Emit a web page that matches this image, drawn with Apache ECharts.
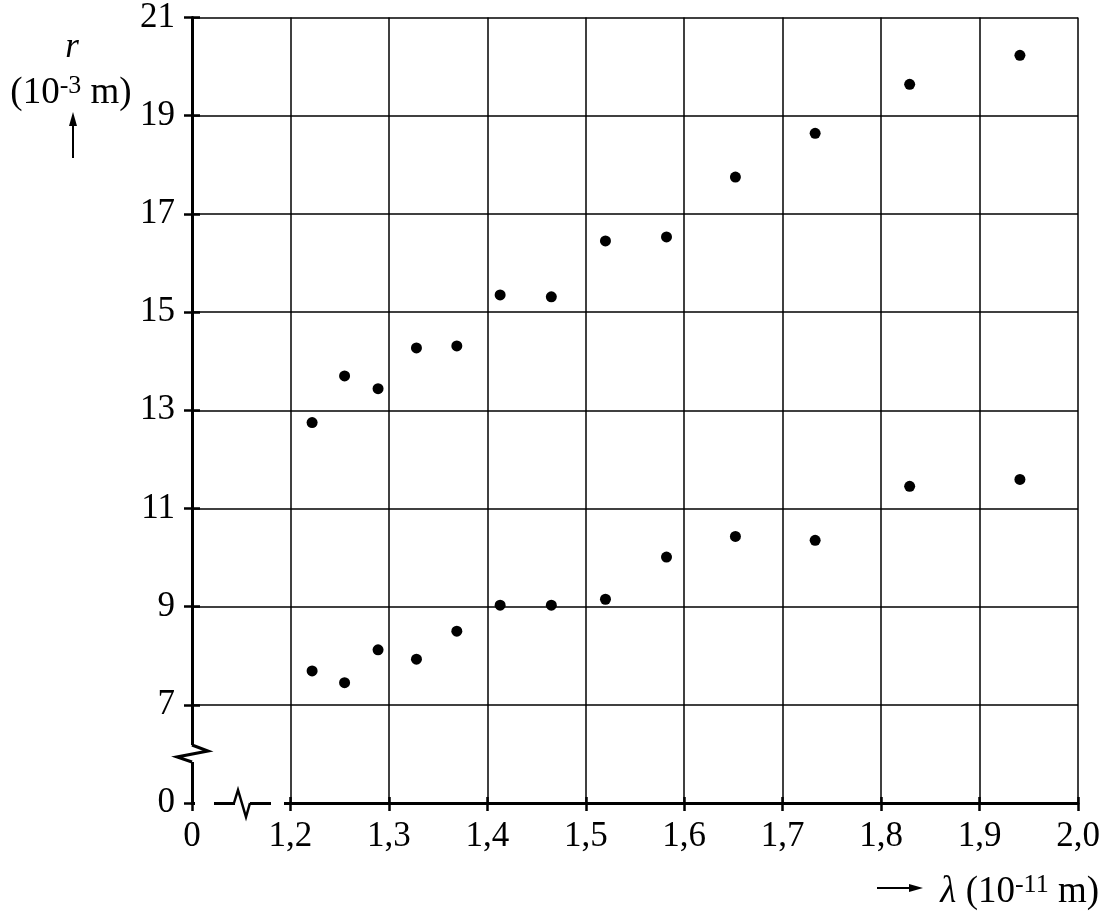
<!DOCTYPE html>
<html>
<head>
<meta charset="utf-8">
<script src="https://cdn.jsdelivr.net/npm/echarts@6/dist/echarts.min.js"></script>
<style>
  html, body { margin: 0; padding: 0; background: #fff; }
  #chart { width: 1109px; height: 918px; }
</style>
</head>
<body>
<div id="chart"></div>
<script>
// wavelength in 10^-11 m
const lambda = [1.222, 1.255, 1.289, 1.328, 1.369, 1.413, 1.465, 1.520, 1.582, 1.652, 1.733, 1.829, 1.941]
// ring radius in 10^-3 m
const rOuter = [12.75, 13.70, 13.44, 14.27, 14.31, 15.35, 15.31, 16.45, 16.53, 17.75, 18.64, 19.64, 20.23]
const rInner = [7.69, 7.45, 8.12, 7.93, 8.50, 9.03, 9.03, 9.15, 10.01, 10.43, 10.35, 11.45, 11.59]

// axis breaks: the first tick stands for 0, the rest are real values
const xTicks = [0, 1.2, 1.3, 1.4, 1.5, 1.6, 1.7, 1.8, 1.9, 2.0]
const yTicks = [0, 7, 9, 11, 13, 15, 17, 19, 21]

// axis units: x in tenths (11..20), y shifted so 5 -> 0
const X_MIN = 11, X_MAX = 20
const Y_SHIFT = 5
const toX = l => l * 10
const toY = r => r - Y_SHIFT

const font = '"Liberation Serif", "DejaVu Serif", serif'
const ink = '#000'

const xLabel = v => {
  const i = Math.round(v) - X_MIN
  const t = xTicks[i]
  return t === 0 ? '0' : t.toFixed(1).replace('.', ',')
}
const yLabel = v => {
  const i = Math.round(v / 2)
  return String(yTicks[i])
}

const chart = echarts.init(document.getElementById('chart'))

const baseX = {
  type: 'value', min: X_MIN, max: X_MAX, interval: 1, position: 'bottom'
}
const baseY = {
  type: 'value', min: 0, max: 16, interval: 2, position: 'left'
}

const option = {
  animation: false,
  backgroundColor: '#fff',
  grid: { left: 192, right: 31, top: 17, bottom: 115 },
  xAxis: [
    Object.assign({}, baseX, {
      axisLine: { show: true, lineStyle: { color: ink, width: 3 } },
      axisTick: { show: true, length: 8, lineStyle: { color: ink, width: 2.5 } },
      axisLabel: { formatter: xLabel, fontFamily: font, fontSize: 35, color: ink, margin: 16 },
      splitLine: { show: true, lineStyle: { color: ink, width: 1.5 } }
    }),
    Object.assign({}, baseX, {
      axisLine: { show: false },
      axisTick: { show: true, inside: true, length: 6, lineStyle: { color: ink, width: 2.5 } },
      axisLabel: { show: false },
      splitLine: { show: false }
    })
  ],
  yAxis: [
    Object.assign({}, baseY, {
      axisLine: { show: true, lineStyle: { color: ink, width: 3 } },
      axisTick: { show: true, length: 8, lineStyle: { color: ink, width: 2.5 } },
      axisLabel: { formatter: yLabel, fontFamily: font, fontSize: 35, color: ink, margin: 17 },
      splitLine: { show: true, lineStyle: { color: ink, width: 1.5 } }
    }),
    Object.assign({}, baseY, {
      axisLine: { show: false },
      axisTick: { show: true, inside: true, length: 8, lineStyle: { color: ink, width: 2.5 } },
      axisLabel: { show: false },
      splitLine: { show: false }
    })
  ],
  series: [
    {
      name: 'outer',
      type: 'scatter',
      symbol: 'circle',
      symbolSize: 11,
      itemStyle: { color: '#000', opacity: 1 },
      data: lambda.map((l, i) => [toX(l), toY(rOuter[i])]),
      z: 5
    },
    {
      name: 'inner',
      type: 'scatter',
      symbol: 'circle',
      symbolSize: 11,
      itemStyle: { color: '#000', opacity: 1 },
      data: lambda.map((l, i) => [toX(l), toY(rInner[i])]),
      z: 5
    }
  ]
}

chart.setOption(option)

// break marks and axis titles
const o = chart.convertToPixel({ gridIndex: 0 }, [X_MIN, 0])
const ox = o[0], oy = o[1]

chart.setOption({
  graphic: [
    // gaps in the x axis line
    { type: 'rect', z: 100, shape: { x: ox + 3, y: oy - 3, width: 19, height: 6 }, style: { fill: '#fff' } },
    { type: 'rect', z: 100, shape: { x: ox + 79, y: oy - 3, width: 13, height: 6 }, style: { fill: '#fff' } },
    { type: 'rect', z: 100, shape: { x: ox + 43, y: oy - 3, width: 15, height: 6 }, style: { fill: '#fff' } },
    {
      type: 'polyline', z: 101,
      shape: { points: [[ox + 42, oy], [ox + 46, oy - 13], [ox + 54, oy + 14], [ox + 58, oy]] },
      style: { stroke: ink, lineWidth: 2.5, fill: null }
    },
    // gap in the y axis line
    { type: 'rect', z: 100, shape: { x: ox - 3, y: oy - 58, width: 6, height: 17 }, style: { fill: '#fff' } },
    {
      type: 'polyline', z: 101,
      shape: { points: [[ox, oy - 58], [ox + 16, oy - 52], [ox - 15, oy - 46], [ox, oy - 41]] },
      style: { stroke: ink, lineWidth: 3, fill: null }
    },
    // y title
    {
      type: 'text', z: 100, x: 72, y: 65,
      style: { text: 'r', font: 'italic 35px ' + font, fill: ink, align: 'center', verticalAlign: 'bottom' }
    },
    {
      type: 'text', z: 100, x: 71, y: 113,
      style: {
        text: '{a|(10}{s|-3}{a| m)}',
        align: 'center', verticalAlign: 'bottom',
        rich: {
          a: { fontFamily: font, fontSize: 37, fill: ink, color: ink },
          s: { fontFamily: font, fontSize: 26, fill: ink, color: ink, verticalAlign: 'top', padding: [0, 0, 14, 0] }
        }
      }
    },
    { type: 'line', z: 100, shape: { x1: 73, y1: 158, x2: 73, y2: 120 }, style: { stroke: ink, lineWidth: 2 } },
    { type: 'polygon', z: 100, shape: { points: [[73, 112], [69, 126], [77, 126]] }, style: { fill: ink } },
    // x title
    { type: 'line', z: 100, shape: { x1: 877, y1: 888, x2: 914, y2: 888 }, style: { stroke: ink, lineWidth: 2 } },
    { type: 'polygon', z: 100, shape: { points: [[923, 888], [909, 884], [909, 892]] }, style: { fill: ink } },
    {
      type: 'text', z: 100, x: 1099, y: 912,
      style: {
        text: '{l|λ}{a| (10}{s|-11}{a| m)}',
        align: 'right', verticalAlign: 'bottom',
        rich: {
          l: { fontFamily: font, fontStyle: 'italic', fontSize: 37, fill: ink, color: ink },
          a: { fontFamily: font, fontSize: 37, fill: ink, color: ink },
          s: { fontFamily: font, fontSize: 26, fill: ink, color: ink, verticalAlign: 'top', padding: [0, 0, 14, 0] }
        }
      }
    }
  ]
})

window.addEventListener('resize', () => chart.resize())
</script>
</body>
</html>
